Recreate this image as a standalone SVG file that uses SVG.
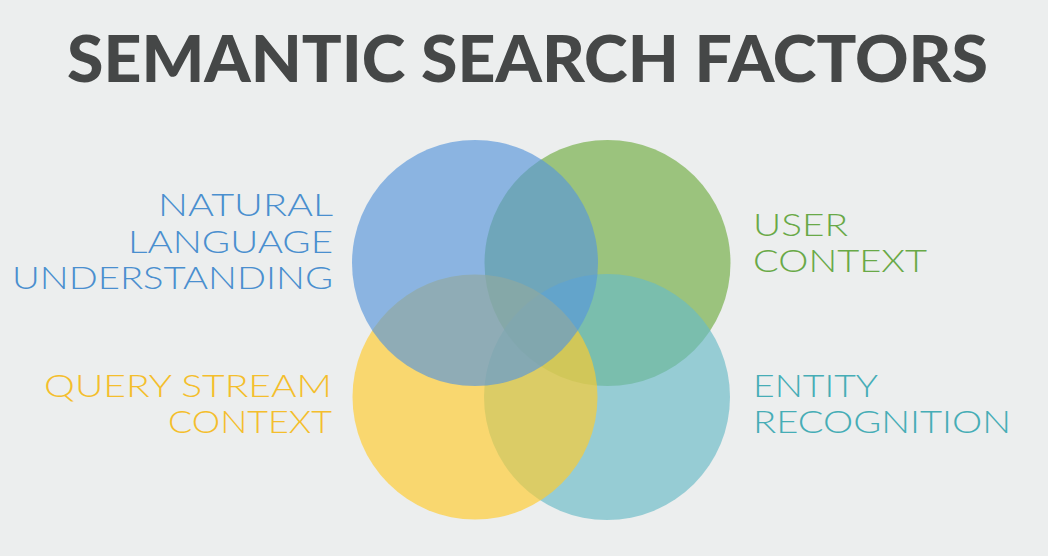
<svg xmlns="http://www.w3.org/2000/svg" width="1048" height="556" viewBox="0 0 1048 556">
<style>
.title{font-family:Lato,"Liberation Sans",sans-serif;font-weight:900;font-size:64px;fill:#454747}
.lbl{font-family:Lato,"Open Sans","Liberation Sans",sans-serif;font-weight:300;font-size:30.5px}
.end{text-anchor:end}
.c{fill-opacity:0.66}
</style>
<rect x="0" y="0" width="1048" height="556" fill="#eceeee"/>
<text class="title" x="67" y="82" textLength="921" lengthAdjust="spacingAndGlyphs">SEMANTIC SEARCH FACTORS</text>
<g id="venn">
<g id="user-context-circle"><circle class="c" cx="607.5" cy="263" r="123" fill="#71ad43"/></g>
<g id="entity-circle"><circle class="c" cx="607" cy="397" r="123" fill="#68bbc7"/></g>
<g id="query-circle"><circle class="c" cx="475" cy="397" r="122.5" fill="#ffcc2e"/></g>
<g id="nlu-circle"><circle class="c" cx="475" cy="263" r="123" fill="#5897db"/></g>
</g>
<g id="nlu-label" class="lbl end" fill="#4a8fcf">
<text x="333" y="216" textLength="175" lengthAdjust="spacingAndGlyphs">NATURAL</text>
<text x="333" y="253" textLength="205" lengthAdjust="spacingAndGlyphs">LANGUAGE</text>
<text x="333" y="289" textLength="321" lengthAdjust="spacingAndGlyphs">UNDERSTANDING</text>
</g>
<g id="query-label" class="lbl end" fill="#f4be2c">
<text x="332" y="397" textLength="288" lengthAdjust="spacingAndGlyphs">QUERY STREAM</text>
<text x="332" y="433" textLength="164" lengthAdjust="spacingAndGlyphs">CONTEXT</text>
</g>
<g id="user-label" class="lbl" fill="#69a947">
<text x="753" y="236" textLength="95" lengthAdjust="spacingAndGlyphs">USER</text>
<text x="753" y="272" textLength="174" lengthAdjust="spacingAndGlyphs">CONTEXT</text>
</g>
<g id="entity-label" class="lbl" fill="#46adb6">
<text x="753" y="397" textLength="125" lengthAdjust="spacingAndGlyphs">ENTITY</text>
<text x="753" y="433" textLength="258" lengthAdjust="spacingAndGlyphs">RECOGNITION</text>
</g>
<g id="connectors"></g>
</svg>
